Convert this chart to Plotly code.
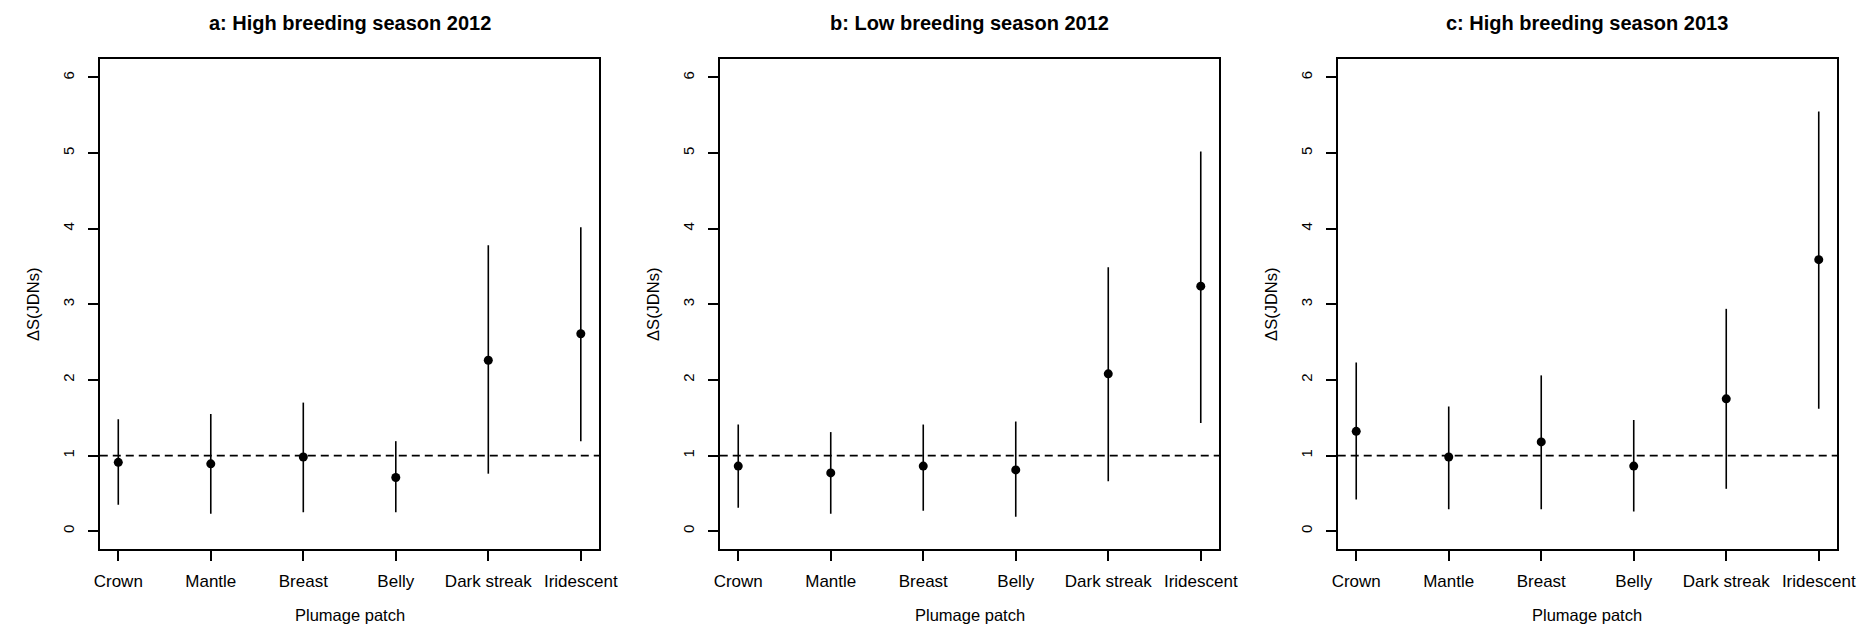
import plotly.graph_objects as go

# Plumage patches on the x axis
patches = ["Crown", "Mantle", "Breast", "Belly", "Dark streak", "Iridescent"]

# Panel titles
titles = [
    "a: High breeding season 2012",
    "b: Low breeding season 2012",
    "c: High breeding season 2013",
]

# Mean chromatic contrast (ΔS, JNDs) with lower / upper interval limits
mean_a = [0.91, 0.89, 0.98, 0.71, 2.26, 2.61]
low_a = [0.35, 0.23, 0.25, 0.25, 0.76, 1.19]
high_a = [1.48, 1.55, 1.70, 1.19, 3.78, 4.02]

mean_b = [0.86, 0.77, 0.86, 0.81, 2.08, 3.24]
low_b = [0.31, 0.23, 0.27, 0.19, 0.66, 1.43]
high_b = [1.41, 1.31, 1.41, 1.45, 3.49, 5.02]

mean_c = [1.32, 0.98, 1.18, 0.86, 1.75, 3.59]
low_c = [0.42, 0.29, 0.29, 0.26, 0.56, 1.62]
high_c = [2.23, 1.65, 2.06, 1.47, 2.94, 5.55]

y_ticks = [0, 1, 2, 3, 4, 5, 6]
threshold = 1

panels = [(mean_a, low_a, high_a), (mean_b, low_b, high_b), (mean_c, low_c, high_c)]

W, H = 1874, 626
# pixel extents of each plotting region
x_px = [(95, 601), (723, 1229), (1349, 1855)]
y_top_px, y_bot_px = 59.3, 549.3
y_dom = [1 - y_bot_px / H, 1 - y_top_px / H]

FONT = "Liberation Sans, Arial, sans-serif"

fig = go.Figure()
annotations = []
shapes = []

for i, ((m, lo, hi), title) in enumerate(zip(panels, titles)):
    n = "" if i == 0 else str(i + 1)
    xa, ya = "x" + n, "y" + n
    fig.add_trace(go.Scatter(
        x=patches, y=m, mode="markers", xaxis=xa, yaxis=ya,
        marker=dict(color="black", size=9),
        error_y=dict(
            type="data", symmetric=False,
            array=[h - v for h, v in zip(hi, m)],
            arrayminus=[v - l for v, l in zip(m, lo)],
            width=0, thickness=1.6, color="black",
        ),
        showlegend=False, hoverinfo="skip",
    ))
    x0, x1 = x_px[i]
    dom = [x0 / W, x1 / W]
    axis_common = dict(
        showline=True, linecolor="black", linewidth=1.6, mirror=True,
        ticks="outside", ticklen=10, tickwidth=1.6, tickcolor="black",
        showgrid=False, zeroline=False,
    )
    fig.layout["xaxis" + n] = dict(
        domain=dom, anchor=ya, type="category", range=[-0.2, 5.2],
        tickfont=dict(family=FONT, size=17, color="black"),
        ticklabelstandoff=5, **axis_common,
    )
    fig.layout["yaxis" + n] = dict(
        domain=y_dom, anchor=xa, range=[-0.24, 6.24],
        tickvals=y_ticks, ticktext=[str(v) for v in y_ticks], tickangle=-90,
        tickfont=dict(family=FONT, size=15, color="black"),
        ticklabelstandoff=8, **axis_common,
    )
    shapes.append(dict(
        type="line", xref=xa + " domain", yref=ya, x0=0, x1=1,
        y0=threshold, y1=threshold,
        line=dict(color="black", width=1.8, dash="8px,5px"),
    ))
    cx = (x0 + x1) / 2 / W
    annotations.append(dict(
        text="<b>" + title + "</b>", xref="paper", yref="paper",
        x=cx, y=1 - 23 / H, xanchor="center", yanchor="middle",
        showarrow=False, font=dict(family=FONT, size=20, color="black"),
    ))
    annotations.append(dict(
        text="Plumage patch", xref="paper", yref="paper",
        x=cx, y=1 - 615 / H, xanchor="center", yanchor="middle",
        showarrow=False, font=dict(family=FONT, size=16.5, color="black"),
    ))
    annotations.append(dict(
        text="ΔS(JDNs)", xref="paper", yref="paper",
        x=(x0 - 67) / W, y=sum(y_dom) / 2, xanchor="center", yanchor="middle",
        textangle=-90, showarrow=False,
        font=dict(family=FONT, size=16.5, color="black"),
    ))

fig.update_layout(
    width=W, height=H,
    margin=dict(l=0, r=0, t=0, b=0),
    paper_bgcolor="white", plot_bgcolor="white",
    annotations=annotations, shapes=shapes,
)

fig.write_html("out.html")
